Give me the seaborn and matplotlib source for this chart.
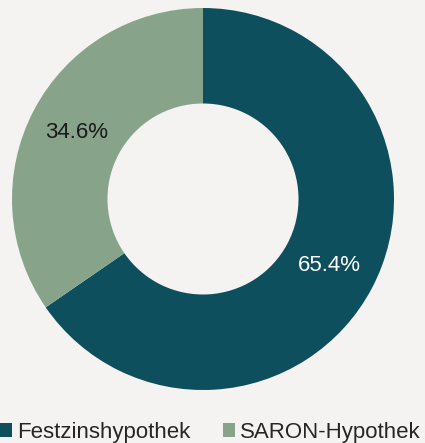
import matplotlib
matplotlib.use("Agg")
import matplotlib.pyplot as plt
from matplotlib.patches import Patch
import seaborn as sns

# Data
categories = ["Festzinshypothek", "SARON-Hypothek"]
shares = [65.4, 34.6]
colors = ["#0d4f5c", "#87a48b"]
label_colors = ["white", "#1a1a1a"]

sns.set_theme(style="white")
plt.rcParams["font.family"] = ["Liberation Sans", "DejaVu Sans"]

bg = "#f5f3f1"
fig = plt.figure(figsize=(4.25, 4.43), dpi=100)
fig.patch.set_facecolor(bg)
ax = fig.add_axes([12 / 425, 53 / 443, 382 / 425, 382 / 443])
ax.set_facecolor(bg)

wedges, texts, autotexts = ax.pie(
    shares,
    colors=colors,
    startangle=90,
    counterclock=False,
    radius=1.0,
    autopct="%.1f%%",
    pctdistance=0.75,
    wedgeprops=dict(width=0.5, edgecolor="none"),
    textprops=dict(fontsize=16),
)
for t, c in zip(autotexts, label_colors):
    t.set_color(c)

ax.set_xlim(-1, 1)
ax.set_ylim(-1, 1)
ax.set_aspect("equal")
ax.axis("off")

handles = [Patch(facecolor=c, edgecolor="none") for c in colors]
fig.legend(
    handles,
    categories,
    loc="lower left",
    bbox_to_anchor=(0.0, 0.0),
    borderpad=0,
    borderaxespad=0,
    ncol=2,
    frameon=False,
    fontsize=16,
    handlelength=0.55,
    handleheight=0.55,
    handletextpad=0.2,
    columnspacing=1.5,
)

fig.savefig("out.png", dpi=100, facecolor=bg)
